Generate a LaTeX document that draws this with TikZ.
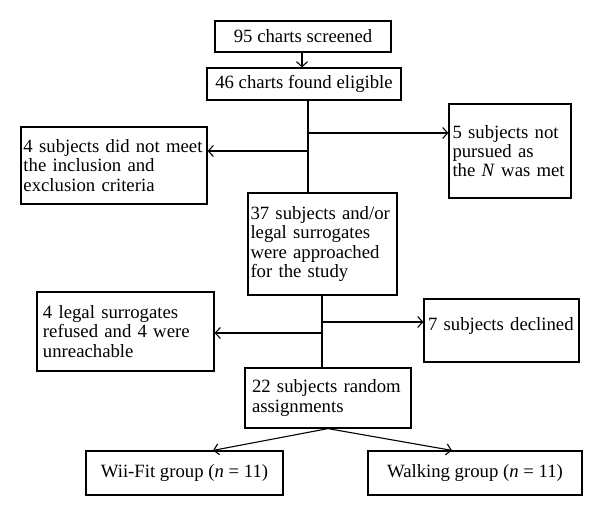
\documentclass[tikz,border=0pt]{standalone}
\usepackage{fontspec}
\setmainfont{Liberation Serif}
\usetikzlibrary{arrows.meta}
\begin{document}
\begin{tikzpicture}[x=1bp,y=-1bp,
  box/.style={draw, line width=1.2bp, inner ysep=1bp, font=\fontsize{18.8}{19.3}\selectfont},
  lbox/.style 2 args={box, align=left, inner xsep=#1, text width=#2},
  conn/.style={line width=1.1bp},
  arr/.style={conn, -{Straight Barb[length=5bp,width=11bp,line width=1.1bp]}}]
\useasboundingbox (0,0) rectangle (600,517);
\node[box, minimum width=176bp, minimum height=31bp] (b1) at (303,36.5) {95 charts screened};
\node[box, minimum width=194bp, minimum height=32bp] (b2) at (304,84) {46 charts found eligible};
\node[lbox={2.5bp}{181bp}, minimum height=77bp] (bA) at (114,165.5) {\mbox{4 subjects did not meet}\\the inclusion and\\exclusion criteria};
\node[lbox={3.5bp}{115bp}, minimum height=94bp] (bB) at (510,151) {\mbox{5 subjects not}\\pursued as\\\mbox{the \textit{N} was met}};
\node[lbox={2.5bp}{144bp}, minimum height=102bp] (b3) at (322.5,244) {\mbox{37 subjects and/or}\\\mbox{legal surrogates}\\\mbox{were approached}\\for the study};
\node[lbox={6bp}{165bp}, minimum height=79bp] (bC) at (125.5,331.5) {\mbox{4 legal surrogates}\\\mbox{refused and 4 were}\\unreachable};
\node[lbox={4bp}{147bp}, minimum height=63bp, text depth=12bp] (bD) at (501.5,330.5) {\mbox{7 subjects declined}};
\node[lbox={7bp}{152bp}, minimum height=60bp] (b4) at (328,398) {\mbox{22 subjects random}\\assignments};
\node[box, minimum width=197bp, minimum height=44bp] (bW) at (184.5,473) {Wii-Fit group (\textit{n} = 11)};
\node[box, minimum width=214bp, minimum height=44bp] (bK) at (475,473) {Walking group (\textit{n} = 11)};
\coordinate (c0) at (302,60);
\draw[arr] (b1.south -| c0) -- (b2.north -| c0);
\coordinate (j1) at (308,133);
\coordinate (j2) at (308,151);
\draw[conn] (b2.south -| j1) -- (b3.north -| j1);
\draw[arr] (j1) -- (j1 -| bB.west);
\draw[arr] (j2) -- (j2 -| bA.east);
\coordinate (k1) at (322,322);
\coordinate (k2) at (322,333);
\draw[conn] (b3.south -| k1) -- (b4.north -| k1);
\draw[arr] (k1) -- (k1 -| bD.west);
\draw[arr] (k2) -- (k2 -| bC.east);
\coordinate (wt) at (213,0);
\coordinate (kt) at (452,0);
\draw[arr] (b4.south) -- (bW.north -| wt);
\draw[arr] (b4.south) -- (bK.north -| kt);
\end{tikzpicture}
\end{document}
